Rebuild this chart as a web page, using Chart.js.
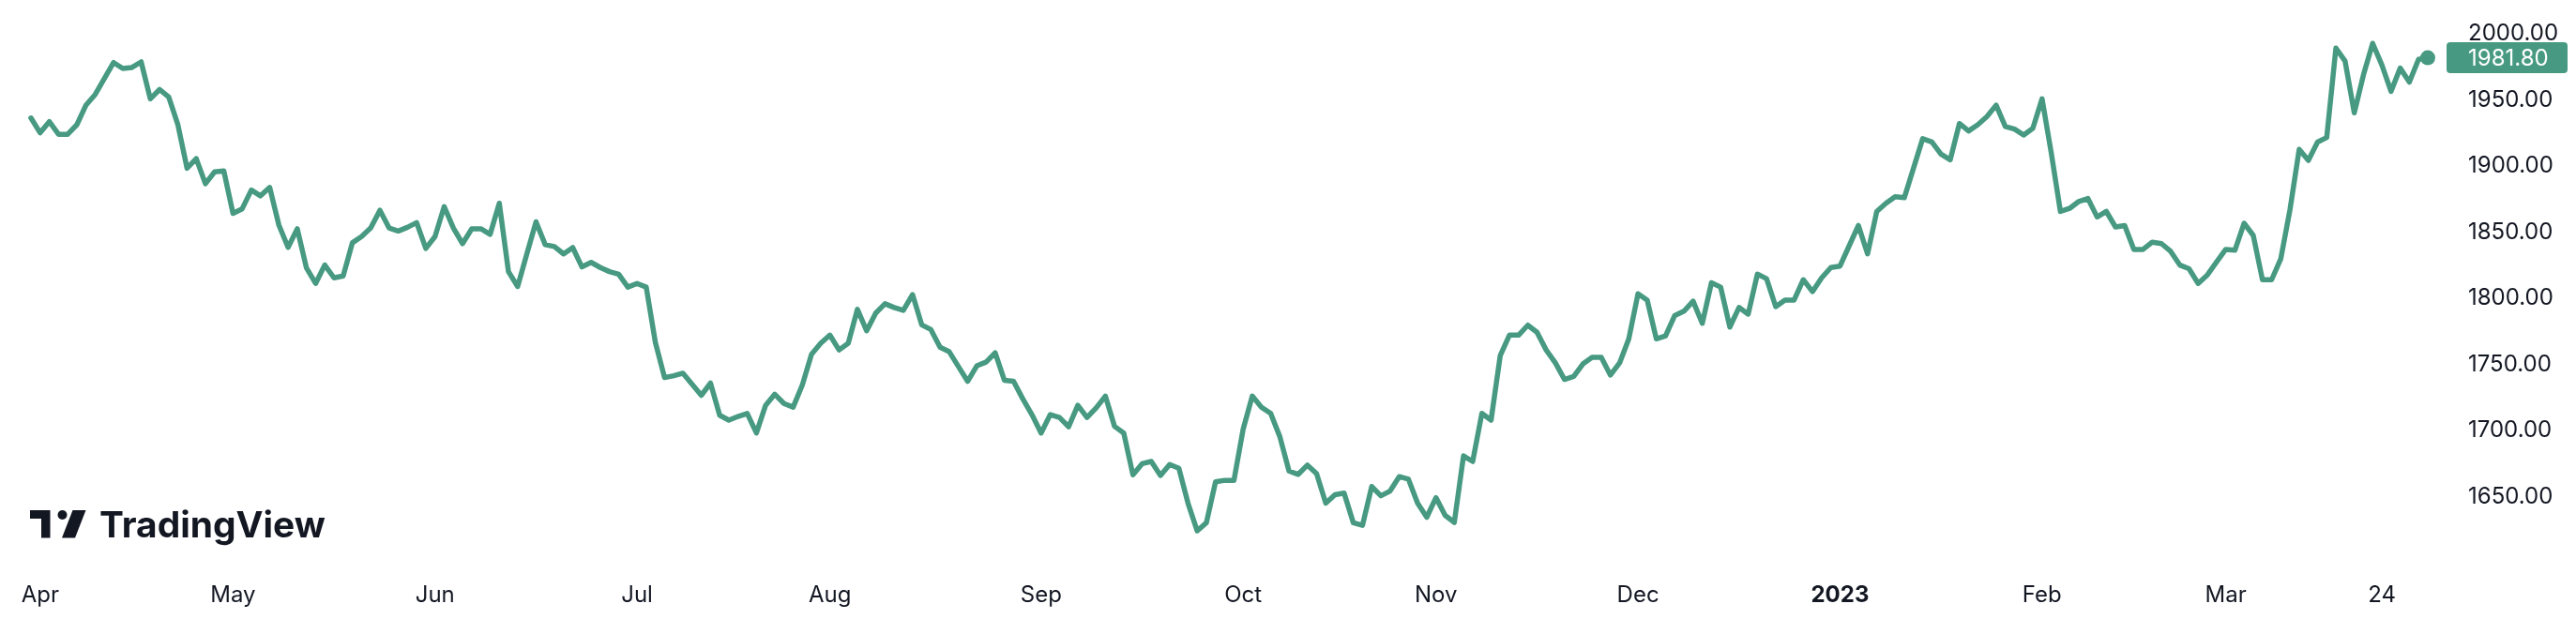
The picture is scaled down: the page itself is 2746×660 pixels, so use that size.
<!DOCTYPE html>
<html>
<head>
<meta charset="utf-8">
<script src="https://cdn.jsdelivr.net/npm/chart.js@4.4.0/dist/chart.umd.min.js"></script>
<style>
  html, body { margin: 0; padding: 0; background: #fff; }
  #wrap { width: 2746px; height: 660px; }
</style>
</head>
<body>
<div id="wrap"><canvas id="goldChart" width="2746" height="660"></canvas></div>
<script>
// daily closes, one per weekday
const firstDay = '2022-03-31';
const lastDay = '2023-03-31';

const q2_2022 = [
  1936.3, 1925.1, 1933.5, 1924.0, 1924.0, 1931.2, 1946.1, 1954.1, 1966.2, 1978.2,
  1973.7, 1974.5, 1978.7, 1950.8, 1957.8, 1952.2, 1931.2, 1898.3, 1905.6, 1886.6,
  1895.5, 1896.3, 1864.2, 1867.6, 1881.8, 1877.4, 1883.8, 1855.3, 1838.5, 1852.5,
  1822.9, 1811.2, 1825.1, 1815.4, 1816.8, 1841.9, 1846.6, 1853.1, 1866.5, 1853.1,
  1850.8, 1853.6, 1857.2, 1837.7, 1846.6, 1869.3, 1853.1, 1841.3, 1852.5, 1852.5,
  1848.3, 1871.8, 1820.1, 1808.9, 1833.5, 1857.8, 1840.5, 1839.1, 1833.5, 1838.3,
  1823.7, 1827.1, 1823.2, 1820.1, 1818.2, 1808.4
];
const q3_2022 = [
  1811.2, 1808.4, 1766.5, 1740.0,
  1741.4, 1743.3, 1734.9, 1726.6, 1735.8, 1711.5, 1707.8, 1710.6, 1712.9, 1698.1,
  1719.0, 1727.4, 1720.4, 1717.6, 1734.4, 1757.6, 1765.9, 1772.1, 1760.9, 1765.9,
  1791.6, 1775.4, 1788.8, 1795.8, 1793.0, 1790.8, 1802.8, 1779.9, 1776.3, 1762.9,
  1759.5, 1748.3, 1737.2, 1748.9, 1751.7, 1758.7, 1738.0, 1737.2, 1724.0, 1712.0,
  1698.1, 1712.0, 1709.8, 1702.8, 1719.0, 1709.8, 1717.1, 1726.0, 1703.1, 1698.1,
  1666.5, 1674.9, 1676.6, 1666.0, 1674.3, 1671.5, 1645.0, 1624.1, 1630.2, 1661.2,
  1662.3, 1662.3
];
const q4_2022 = [
  1700.9, 1726.0, 1717.6, 1712.9, 1695.3, 1669.3, 1666.8, 1673.8,
  1667.4, 1645.0, 1651.4, 1652.6, 1630.2, 1628.3, 1657.6, 1650.6, 1654.2, 1665.1,
  1663.2, 1645.0, 1634.4, 1649.2, 1635.8, 1630.5, 1680.8, 1676.6, 1712.9, 1707.8,
  1756.7, 1772.1, 1772.1, 1779.6, 1774.3, 1760.9, 1751.1, 1738.6, 1740.8, 1750.3,
  1755.3, 1755.3, 1741.9, 1751.1, 1769.3, 1803.4, 1798.6, 1769.3, 1771.5, 1786.9,
  1790.2, 1797.8, 1781.0, 1811.7, 1808.4, 1778.2, 1793.0, 1788.0, 1818.2, 1814.8,
  1793.6, 1798.6, 1798.6, 1814.0, 1805.0, 1815.4, 1823.2
];
const q1_2023 = [
  1824.3, 1839.7, 1855.0,
  1833.5, 1865.6, 1871.8, 1876.8, 1876.0, 1898.3, 1920.6, 1918.1, 1908.9, 1904.7,
  1932.1, 1926.5, 1931.2, 1937.4, 1946.0, 1929.9, 1927.9, 1923.4, 1928.5, 1950.8,
  1910.0, 1865.6, 1867.9, 1873.2, 1875.4, 1861.4, 1865.6, 1853.9, 1855.0, 1836.9,
  1836.9, 1842.4, 1841.3, 1835.5, 1825.1, 1822.3, 1811.2, 1817.6, 1827.4, 1836.9,
  1836.3, 1856.7, 1847.5, 1814.0, 1814.0, 1829.9, 1867.0, 1912.5, 1904.2, 1918.1,
  1921.5, 1989.1, 1979.3, 1940.2, 1968.9, 1992.7, 1976.5, 1956.4, 1974.0, 1963.4,
  1980.7, 1981.8
];

const monthNames = ['Jan', 'Feb', 'Mar', 'Apr', 'May', 'Jun', 'Jul', 'Aug', 'Sep', 'Oct', 'Nov', 'Dec'];
const dayTickDates = ['2023-03-24'];
const yTicks = [1650, 1700, 1750, 1800, 1850, 1900, 1950, 2000];

const lineColor = '#479a81';
const textColor = '#131722';
const fontFamily = 'Inter, "Noto Sans", sans-serif';
const fontSize = 24;

const closes = [...q2_2022, ...q3_2022, ...q4_2022, ...q1_2023];

// weekdays between first and last day (the time axis has no weekend gaps)
const tradingDays = [];
for (let d = new Date(firstDay + 'T00:00:00Z'); d <= new Date(lastDay + 'T00:00:00Z'); d.setUTCDate(d.getUTCDate() + 1)) {
  const wd = d.getUTCDay();
  if (wd !== 0 && wd !== 6) tradingDays.push(d.toISOString().slice(0, 10));
}

const xTickLabels = {};
tradingDays.forEach((day, i) => {
  if (i === 0) return;
  const m = +day.slice(5, 7) - 1;
  if (m !== +tradingDays[i - 1].slice(5, 7) - 1) {
    xTickLabels[i] = m === 0 ? day.slice(0, 4) : monthNames[m];
  }
});
dayTickDates.forEach(day => {
  const i = tradingDays.indexOf(day);
  if (i >= 0) xTickLabels[i] = String(+day.slice(8, 10));
});

const points = closes.map((v, i) => ({ x: i, y: v }));
const lastIdx = closes.length - 1;

// last price badge on the price axis
const badgePlugin = {
  id: 'lastBadge',
  afterDraw(chart) {
    const ctx = chart.ctx;
    const ys = chart.scales.y;
    const y = ys.getPixelForValue(closes[lastIdx]);
    const x0 = ys.left + 8;
    const h = 33;
    ctx.save();
    ctx.fillStyle = lineColor;
    ctx.beginPath();
    ctx.roundRect(x0, y - h / 2, chart.width - 9 - x0, h, 4);
    ctx.fill();
    ctx.fillStyle = '#ffffff';
    ctx.font = fontSize + 'px ' + fontFamily;
    ctx.textAlign = 'left';
    ctx.textBaseline = 'middle';
    ctx.fillText(closes[lastIdx].toFixed(2), ys.left + 31, y + 1);
    ctx.restore();
  }
};

// TradingView watermark, bottom left
const logoPlugin = {
  id: 'tvLogo',
  afterDraw(chart) {
    const ctx = chart.ctx;
    ctx.save();
    ctx.fillStyle = textColor;
    ctx.fillRect(32, 544, 21, 9);
    ctx.fillRect(44, 544, 9.5, 29.5);
    ctx.beginPath();
    ctx.arc(66.5, 549, 5, 0, Math.PI * 2);
    ctx.fill();
    ctx.beginPath();
    ctx.moveTo(77.5, 544);
    ctx.lineTo(91.5, 544);
    ctx.lineTo(80, 573.5);
    ctx.lineTo(66, 573.5);
    ctx.closePath();
    ctx.fill();
    let size = 38;
    ctx.font = '700 ' + size + 'px ' + fontFamily;
    const w = ctx.measureText('TradingView').width;
    size = size * 241 / w;
    ctx.font = '700 ' + size.toFixed(1) + 'px ' + fontFamily;
    ctx.textBaseline = 'alphabetic';
    ctx.fillText('TradingView', 106, 573);
    ctx.restore();
  }
};

new Chart(document.getElementById('goldChart'), {
  type: 'line',
  data: {
    datasets: [{
      data: points,
      borderColor: lineColor,
      borderWidth: 5.5,
      borderJoinStyle: 'round',
      borderCapStyle: 'round',
      tension: 0,
      fill: false,
      pointRadius: ctx => ctx.dataIndex === lastIdx ? 8 : 0,
      pointHoverRadius: 0,
      pointBackgroundColor: lineColor,
      pointBorderWidth: 0
    }]
  },
  options: {
    responsive: false,
    animation: false,
    devicePixelRatio: 1,
    layout: { padding: 0, autoPadding: false },
    plugins: { legend: { display: false }, tooltip: { enabled: false } },
    scales: {
      x: {
        type: 'linear',
        bounds: 'data',
        min: -3.37,
        max: lastIdx + 1.23,
        grid: { display: false, drawTicks: false },
        border: { display: false },
        afterBuildTicks: s => { s.ticks = Object.keys(xTickLabels).map(k => ({ value: +k })); },
        afterFit: s => { s.height = 60; s.paddingLeft = 0; s.paddingRight = 0; },
        ticks: {
          autoSkip: false,
          maxRotation: 0,
          padding: 20,
          color: textColor,
          font: ctx => ({
            family: fontFamily,
            size: fontSize,
            weight: ctx.tick && /^\d{4}$/.test(ctx.tick.label) ? '700' : '400'
          }),
          callback: v => xTickLabels[v]
        }
      },
      y: {
        position: 'right',
        min: 1600,
        max: 2025.5,
        grid: { display: false, drawTicks: false },
        border: { display: false },
        afterBuildTicks: s => { s.ticks = yTicks.map(v => ({ value: v })); },
        afterFit: s => { s.width = 146; s.paddingTop = 0; s.paddingBottom = 0; },
        ticks: {
          padding: 31,
          color: textColor,
          font: { family: fontFamily, size: fontSize },
          callback: v => v.toFixed(2)
        }
      }
    }
  },
  plugins: [badgePlugin, logoPlugin]
});
</script>
</body>
</html>
